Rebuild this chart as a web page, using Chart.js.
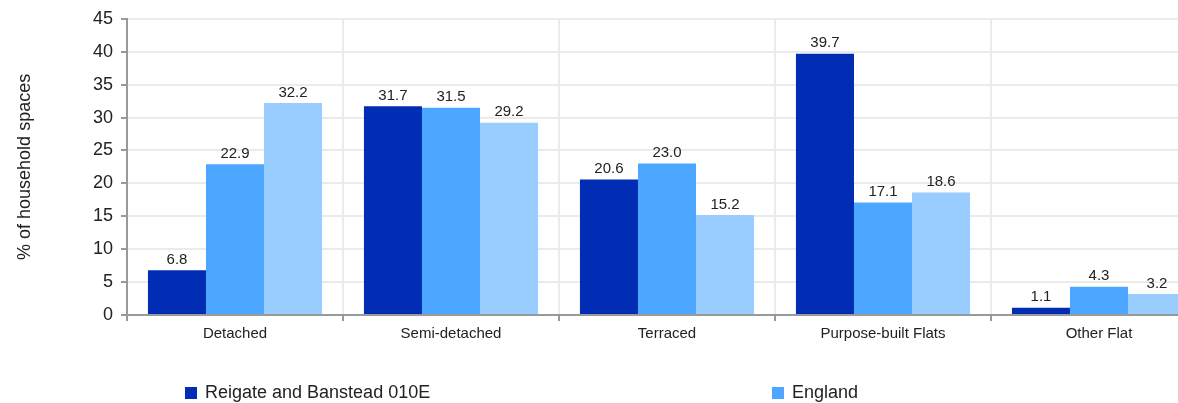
<!DOCTYPE html>
<html>
<head>
<meta charset="utf-8">
<script src="https://cdn.jsdelivr.net/npm/chart.js@4.4.1/dist/chart.umd.min.js"></script>
<style>
  html, body { margin: 0; padding: 0; background: #fff; overflow: hidden; }
  #wrap { position: relative; width: 1210px; height: 403px; }
  #legend { position: absolute; left: 0; top: 381px; width: 1178px; height: 22px;
            font-family: "Liberation Sans", Arial, sans-serif; font-size: 18px; color: #222; }
  .item { position: absolute; top: 0; white-space: nowrap; line-height: 22px; }
  .box { display: inline-block; width: 12px; height: 12px; vertical-align: -1px; margin-right: 8px; }
</style>
</head>
<body>
<div id="wrap">
  <canvas id="chart" width="1210" height="403"></canvas>
  <div id="legend"></div>
</div>
<script>
// 주거 유형 카테고리
const categories = ['Detached', 'Semi-detached', 'Terraced', 'Purpose-built Flats', 'Other Flat'];

// 시리즈 값 (%)
const localValues = [6.8, 31.7, 20.6, 39.7, 1.1];
const englandValues = [22.9, 31.5, 23.0, 17.1, 4.3];
const thirdValues = [32.2, 29.2, 15.2, 18.6, 3.2];

const seriesNames = ['Reigate and Banstead 010E', 'England', ''];
const seriesColors = ['#002db3', '#4da6ff', '#99ccff'];

const yTicks = [0, 5, 10, 15, 20, 25, 30, 35, 40, 45];

const FONT = '"Liberation Sans", Arial, sans-serif';

// 막대 위 값 표시
const valueLabels = {
  id: 'valueLabels',
  afterDatasetsDraw(chart) {
    const ctx = chart.ctx;
    ctx.save();
    ctx.font = '15px ' + FONT;
    ctx.fillStyle = '#222';
    ctx.textAlign = 'center';
    ctx.textBaseline = 'bottom';
    chart.data.datasets.forEach((ds, i) => {
      chart.getDatasetMeta(i).data.forEach((bar, j) => {
        ctx.fillText(ds.data[j].toFixed(1), bar.x, bar.y - 3);
      });
    });
    ctx.restore();
  }
};

const chart = new Chart(document.getElementById('chart'), {
  type: 'bar',
  data: {
    labels: categories,
    datasets: [localValues, englandValues, thirdValues].map((vals, i) => ({
      label: seriesNames[i],
      data: vals,
      backgroundColor: seriesColors[i],
      categoryPercentage: 0.806,
      barPercentage: 1.0
    }))
  },
  options: {
    responsive: false,
    animation: false,
    layout: { padding: { left: 0, right: 3, top: 16, bottom: 58 } },
    plugins: {
      legend: { display: false },
      tooltip: { enabled: false }
    },
    scales: {
      x: {
        grid: { color: '#ebebeb', lineWidth: 2, tickLength: 6, tickColor: '#999', offset: true },
        border: { color: '#999', width: 2 },
        ticks: { color: '#222', font: { family: FONT, size: 15 }, padding: 4, maxRotation: 0 },
        afterFit(scale) { scale.height = 30; }
      },
      y: {
        min: 0,
        max: 45,
        afterBuildTicks(scale) { scale.ticks = yTicks.map(v => ({ value: v })); },
        grid: { color: '#ebebeb', lineWidth: 2, tickLength: 6, tickColor: '#999' },
        border: { color: '#999', width: 2 },
        ticks: { color: '#222', font: { family: FONT, size: 18 }, padding: 8 },
        title: {
          display: true,
          text: '% of household spaces',
          color: '#222',
          font: { family: FONT, size: 18 },
          padding: { top: 14, bottom: 0 }
        },
        afterFit(scale) { scale.width = 127; }
      }
    }
  },
  plugins: [valueLabels]
});

// 범례 (두 항목만 표시)
const legendPos = [185, 772];
const legend = document.getElementById('legend');
legendPos.forEach((x, i) => {
  const el = document.createElement('div');
  el.className = 'item';
  el.style.left = x + 'px';
  el.innerHTML = '<span class="box" style="background:' + seriesColors[i] + '"></span>' + seriesNames[i];
  legend.appendChild(el);
});
</script>
</body>
</html>
